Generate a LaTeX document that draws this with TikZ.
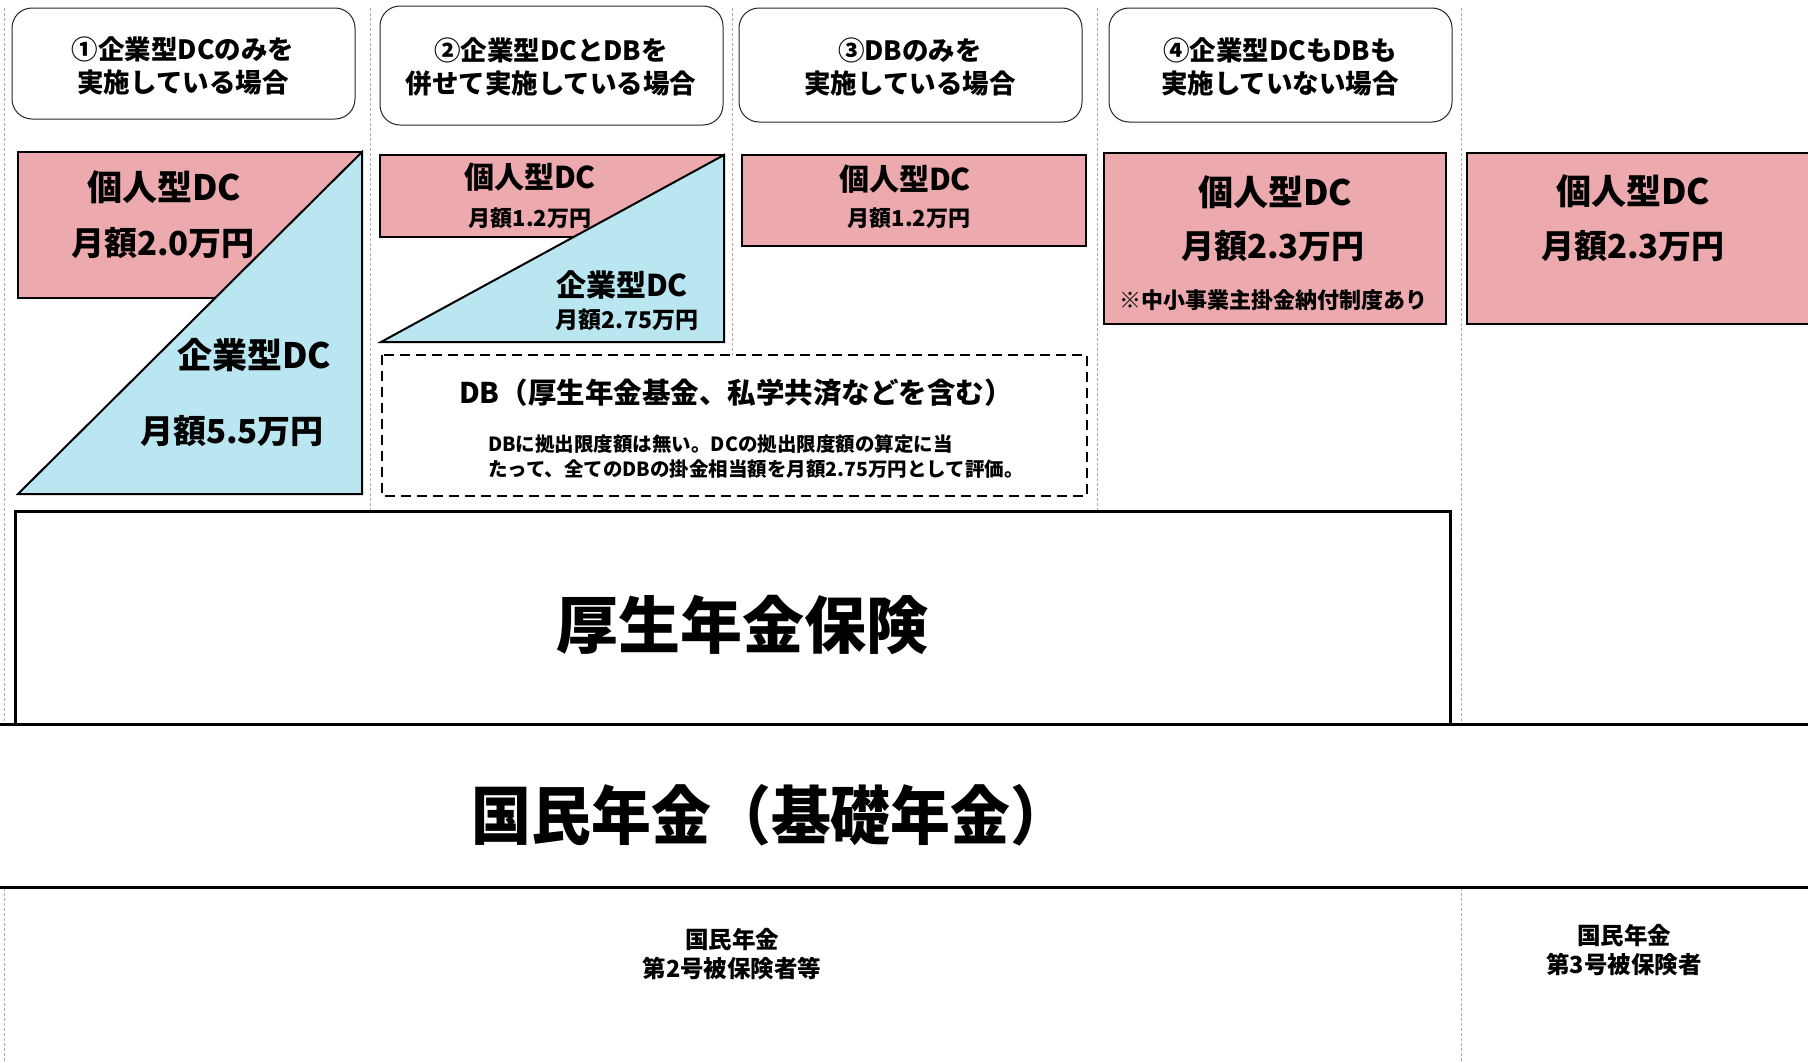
\documentclass[tikz,border=0pt]{standalone}
\usepackage{fontspec}
\setmainfont{Noto Sans CJK JP}
\definecolor{pinkdc}{RGB}{237,170,174}
\definecolor{bluedc}{RGB}{185,230,241}
\definecolor{sepgray}{RGB}{170,170,170}
\begin{document}
\begin{tikzpicture}[x=1pt,y=-1pt,
  lbl/.style={inner sep=0pt, align=center},
  fs/.style n args={2}{font=\bfseries\fontsize{#1}{#2}\selectfont},
  sepline/.style={sepgray, line width=1pt, dash pattern=on 3pt off 2pt},
  head/.style={draw=black!85, line width=1pt, rounded corners=20pt, fill=white},
  pinkbox/.style={draw=black, line width=2pt, fill=pinkdc},
  bluetri/.style={draw=black, line width=2pt, fill=bluedc, line join=miter},
  dbbox/.style={draw=black, line width=2.5pt, dash pattern=on 10pt off 6pt, fill=white},
  thickline/.style={draw=black, line width=3pt}
]
\useasboundingbox (0,0) rectangle (1808,1063);
\fill[white] (0,0) rectangle (1808,1063);
% column separators
\draw[sepline] (4,8) -- (4,1063);
\draw[sepline] (370,8) -- (370,511);
\draw[sepline] (732,8) -- (732,355);
\draw[sepline] (1097,8) -- (1097,511);
\draw[sepline] (1461,8) -- (1461,1063);
% headers
\draw[head] (12,8) rectangle (355,119);
\node[lbl, fs={26.5}{33}] (h1) at (183,66) {①企業型DCのみを\\実施している場合};
\draw[head] (380,6) rectangle (723,125);
\node[lbl, fs={26.5}{33}] (h2) at (551,67) {②企業型DCとDBを\\併せて実施している場合};
\draw[head] (739,8) rectangle (1082,122);
\node[lbl, fs={26.5}{33}] (h3) at (910,67) {③DBのみを\\実施している場合};
\draw[head] (1109,8) rectangle (1452,122);
\node[lbl, fs={26.5}{33}] (h4) at (1280,67) {④企業型DCもDBも\\実施していない場合};
% column 1
\draw[pinkbox] (18,152) rectangle (362,298);
\draw[bluetri] (18,494) -- (362,152) -- (362,494) -- cycle;
\node[lbl, fs={35}{40}] (c1a) at (164,187) {個人型DC};
\node[lbl, fs={33}{40}] (c1b) at (163,243) {月額2.0万円};
\node[lbl, fs={35}{40}] (c1c) at (254,355) {企業型DC};
\node[lbl, fs={33}{40}] (c1d) at (232,431) {月額5.5万円};
% column 2
\draw[pinkbox] (380,155) rectangle (724,237);
\draw[bluetri] (381,342) -- (724,155) -- (724,342) -- cycle;
\node[lbl, fs={30}{36}] (c2a) at (530,177) {個人型DC};
\node[lbl, fs={22}{26}] (c2b) at (530,218) {月額1.2万円};
\node[lbl, fs={30}{36}] (c2c) at (622,285) {企業型DC};
\node[lbl, fs={23}{26}] (c2d) at (627,320) {月額2.75万円};
% DB box
\draw[dbbox] (382,355) rectangle (1087,496);
\node[lbl, fs={28.5}{32}] (dbt) at (736,393) {DB（厚生年金基金、私学共済などを含む）};
\node[lbl, align=left, fs={19.5}{25}] (dbn) at (756,456) {DBに拠出限度額は無い。DCの拠出限度額の算定に当\\たって、全てのDBの掛金相当額を月額2.75万円として評価。};
% column 3
\draw[pinkbox] (742,155) rectangle (1086,246);
\node[lbl, fs={30}{36}] (c3a) at (905,179) {個人型DC};
\node[lbl, fs={22}{26}] (c3b) at (909,218) {月額1.2万円};
% column 4
\draw[pinkbox] (1104,153) rectangle (1446,324);
\node[lbl, fs={35}{40}] (c4a) at (1275,192) {個人型DC};
\node[lbl, fs={33}{40}] (c4b) at (1273,246) {月額2.3万円};
\node[lbl, fs={22}{26}] (c4c) at (1273,300) {※中小事業主掛金納付制度あり};
% column 5
\draw[pinkbox] (1467,153) rectangle (1815,324);
\node[lbl, fs={35}{40}] (c5a) at (1633,191) {個人型DC};
\node[lbl, fs={33}{40}] (c5b) at (1633,246) {月額2.3万円};
% employee pension
\draw[thickline, fill=white] (15,511) rectangle (1450,724);
\node[lbl, fs={62}{70}] (kosei) at (742,625) {厚生年金保険};
% national pension band
\fill[white] (0,724) rectangle (1808,887);
\draw[thickline] (0,724) -- (1808,724);
\draw[thickline] (0,887) -- (1808,887);
\node[lbl, fs={57}{64}] (kokumin) at (771,815) {\scalebox{1.05}[1.12]{国民年金（基礎年金）}};
% bottom labels
\node[lbl, fs={23.5}{29}] (b1) at (732,954) {国民年金\\第2号被保険者等};
\node[lbl, fs={23.5}{29}] (b2) at (1624,950) {国民年金\\第3号被保険者};
\end{tikzpicture}
\end{document}
